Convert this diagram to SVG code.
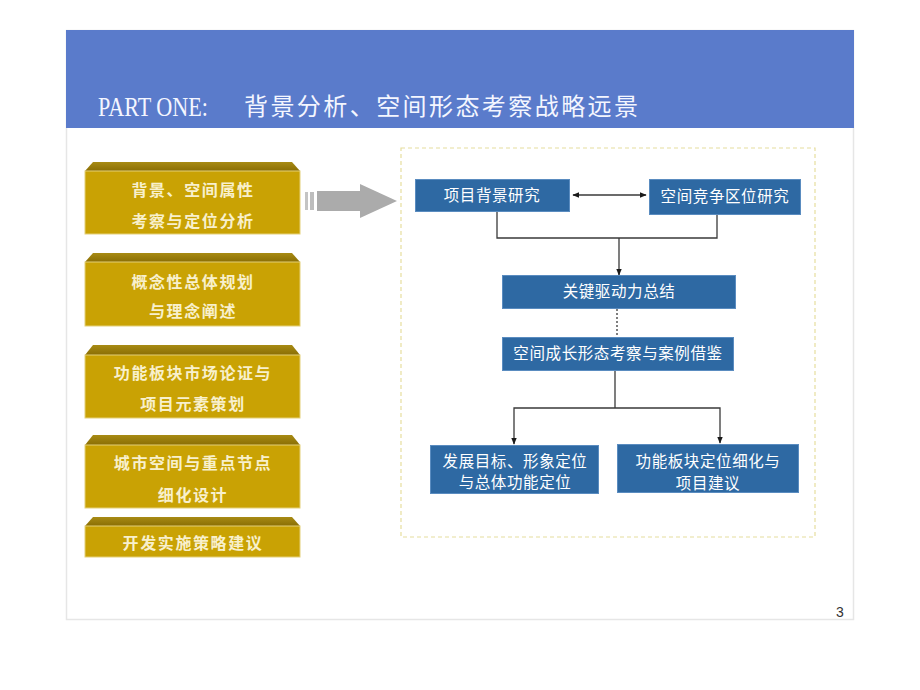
<svg xmlns="http://www.w3.org/2000/svg" width="920" height="690" viewBox="0 0 920 690">
<defs>
<style>
.gbody{fill:#C9A204;stroke:#E4D078;stroke-width:1;}
.gtxt{font-family:"Noto Sans CJK SC","Noto Sans",sans-serif;font-size:16px;font-weight:bold;fill:#F8F0CC;text-anchor:middle;letter-spacing:1.6px;}
.bbox{fill:#2E69A3;stroke:#5A8CC0;stroke-width:1;}
.btxt{font-family:"Noto Sans CJK SC","Noto Sans",sans-serif;font-size:15.5px;fill:#FFFFFF;text-anchor:middle;letter-spacing:0.6px;}
.conn{fill:none;stroke:#3A3A3A;stroke-width:1.3;}
</style>
<marker id="ah" viewBox="0 0 10 10" refX="9" refY="5" markerWidth="7" markerHeight="7" orient="auto-start-reverse" markerUnits="userSpaceOnUse">
<path d="M0,1 L10,5 L0,9 Z" fill="#1A1A1A"/>
</marker>
<linearGradient id="topg" x1="0" y1="0" x2="0" y2="1">
<stop offset="0" stop-color="#A88B14"/>
<stop offset="1" stop-color="#8A6E04"/>
</linearGradient>
</defs>
<rect width="920" height="690" fill="#FFFFFF"/>
<rect x="66.5" y="30.5" width="787" height="589" fill="none" stroke="#E6E6E6" stroke-width="1.5"/>
<g id="header">
<rect x="66" y="30" width="788" height="98" fill="#5A7BCB"/>
<text x="98" y="116" font-family="Liberation Serif,serif" font-size="27" fill="#F4F6FF" textLength="110" lengthAdjust="spacingAndGlyphs">PART ONE:</text>
<text x="244" y="115" font-family="Noto Sans CJK SC,sans-serif" font-size="24" fill="#F4F6FF" textLength="394" lengthAdjust="spacing">背景分析、空间形态考察战略远景</text>
</g>
<g id="gold1">
<polygon style="fill:url(#topg)" points="85,171 93,162 292,162 300,171"/>
<rect class="gbody" x="85" y="171" width="215" height="63"/>
<text class="gtxt" x="193" y="196">背景、空间属性</text>
<text class="gtxt" x="193" y="227">考察与定位分析</text>
</g>
<g id="gold2">
<polygon style="fill:url(#topg)" points="85,262 93,253 292,253 300,262"/>
<rect class="gbody" x="85" y="262" width="215" height="64"/>
<text class="gtxt" x="193" y="288">概念性总体规划</text>
<text class="gtxt" x="193" y="317">与理念阐述</text>
</g>
<g id="gold3">
<polygon style="fill:url(#topg)" points="85,355 93,345 292,345 300,355"/>
<rect class="gbody" x="85" y="355" width="215" height="63"/>
<text class="gtxt" x="193" y="379">功能板块市场论证与</text>
<text class="gtxt" x="193" y="410">项目元素策划</text>
</g>
<g id="gold4">
<polygon style="fill:url(#topg)" points="85,445 93,435 292,435 300,445"/>
<rect class="gbody" x="85" y="445" width="215" height="63"/>
<text class="gtxt" x="193" y="469">城市空间与重点节点</text>
<text class="gtxt" x="193" y="501">细化设计</text>
</g>
<g id="gold5">
<polygon style="fill:url(#topg)" points="85,526 93,517 292,517 300,526"/>
<rect class="gbody" x="85" y="526" width="215" height="31"/>
<text class="gtxt" x="193" y="549">开发实施策略建议</text>
</g>
<g id="bigarrow">
<rect x="305" y="192" width="3" height="18" fill="#C4C4C4"/>
<rect x="310" y="192" width="4" height="18" fill="#BDBDBD"/>
<rect x="317" y="191" width="44" height="20" fill="#ABABAB"/>
<polygon points="360,184 397,201 360,218" fill="#ABABAB"/>
</g>
<rect id="frame" x="401" y="148" width="414" height="389" fill="none" stroke="#E6DE9E" stroke-width="1.2" stroke-dasharray="4,3"/>
<g id="connectors">
<line class="conn" x1="573" y1="195" x2="646" y2="195" marker-start="url(#ah)" marker-end="url(#ah)"/>
<polyline class="conn" points="497,212 497,238 717,238 717,215"/>
<line class="conn" x1="619" y1="238" x2="619" y2="275" marker-end="url(#ah)"/>
<line class="conn" x1="617" y1="309" x2="617" y2="337" stroke-dasharray="2,2"/>
<polyline class="conn" points="615,371 615,408"/>
<polyline class="conn" points="514,444 514,408 720,408 720,443" marker-start="url(#ah)" marker-end="url(#ah)"/>
</g>
<g id="n1">
<rect class="bbox" x="415.5" y="179.5" width="154" height="32"/>
<text class="btxt" x="492" y="201">项目背景研究</text>
</g>
<g id="n2">
<rect class="bbox" x="649.5" y="179.5" width="151" height="35"/>
<text class="btxt" x="725" y="202">空间竞争区位研究</text>
</g>
<g id="n3">
<rect class="bbox" x="502.5" y="275.5" width="233" height="33"/>
<text class="btxt" x="619" y="297">关键驱动力总结</text>
</g>
<g id="n4">
<rect class="bbox" x="502.5" y="337.5" width="231" height="33"/>
<text class="btxt" x="618" y="359">空间成长形态考察与案例借鉴</text>
</g>
<g id="n5">
<rect class="bbox" x="430.5" y="445.5" width="168" height="48"/>
<text class="btxt" x="515" y="467">发展目标、形象定位</text>
<text class="btxt" x="515" y="488">与总体功能定位</text>
</g>
<g id="n6">
<rect class="bbox" x="617.5" y="444.5" width="181" height="48"/>
<text class="btxt" x="708" y="467">功能板块定位细化与</text>
<text class="btxt" x="708" y="489">项目建议</text>
</g>
<text x="836" y="617" font-family="Liberation Sans,sans-serif" font-size="14" fill="#333333">3</text>
</svg>
